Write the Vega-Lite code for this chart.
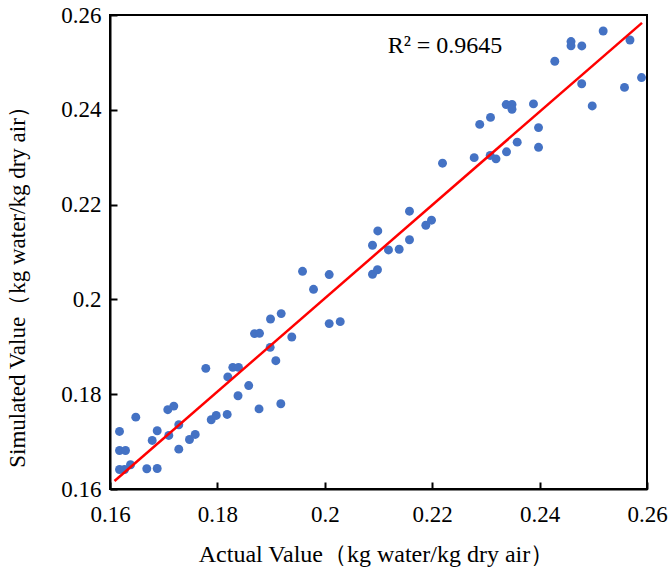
{
  "$schema": "https://vega.github.io/schema/vega-lite/v6.json",
  "width": 537,
  "height": 474,
  "autosize": {"type": "none"},
  "padding": {"left": 110, "top": 15, "right": 25, "bottom": 83},
  "background": "white",
  "config": {
    "view": {"stroke": "#000", "strokeWidth": 2},
    "font": "Liberation Serif",
    "axis": {
      "grid": false,
      "domainColor": "#000",
      "domainWidth": 2,
      "tickColor": "#000",
      "tickWidth": 2,
      "tickSize": -7,
      "labelColor": "#000",
      "titleColor": "#000",
      "labelFlush": false
    }
  },
  "datasets": {
    "points": [
      {"actual": 0.16177, "simulated": 0.17214},
      {"actual": 0.16177, "simulated": 0.16813},
      {"actual": 0.16289, "simulated": 0.16813},
      {"actual": 0.16177, "simulated": 0.16412},
      {"actual": 0.16270, "simulated": 0.16412},
      {"actual": 0.16382, "simulated": 0.16511},
      {"actual": 0.16480, "simulated": 0.17516},
      {"actual": 0.16685, "simulated": 0.16427},
      {"actual": 0.16879, "simulated": 0.16433},
      {"actual": 0.16786, "simulated": 0.17024},
      {"actual": 0.16879, "simulated": 0.17229},
      {"actual": 0.17076, "simulated": 0.17673},
      {"actual": 0.17188, "simulated": 0.17749},
      {"actual": 0.17095, "simulated": 0.17130},
      {"actual": 0.17281, "simulated": 0.17356},
      {"actual": 0.17281, "simulated": 0.16841},
      {"actual": 0.17480, "simulated": 0.17045},
      {"actual": 0.17587, "simulated": 0.17151},
      {"actual": 0.17784, "simulated": 0.18545},
      {"actual": 0.17885, "simulated": 0.17461},
      {"actual": 0.17978, "simulated": 0.17552},
      {"actual": 0.18182, "simulated": 0.17573},
      {"actual": 0.18194, "simulated": 0.18365},
      {"actual": 0.18287, "simulated": 0.18566},
      {"actual": 0.18393, "simulated": 0.18566},
      {"actual": 0.18384, "simulated": 0.17968},
      {"actual": 0.18583, "simulated": 0.18182},
      {"actual": 0.18775, "simulated": 0.17690},
      {"actual": 0.19181, "simulated": 0.17799},
      {"actual": 0.18989, "simulated": 0.19586},
      {"actual": 0.19188, "simulated": 0.19700},
      {"actual": 0.18691, "simulated": 0.19278},
      {"actual": 0.18784, "simulated": 0.19284},
      {"actual": 0.18983, "simulated": 0.18988},
      {"actual": 0.19088, "simulated": 0.18707},
      {"actual": 0.19385, "simulated": 0.19206},
      {"actual": 0.19585, "simulated": 0.20593},
      {"actual": 0.19790, "simulated": 0.20213},
      {"actual": 0.20082, "simulated": 0.20524},
      {"actual": 0.20082, "simulated": 0.19489},
      {"actual": 0.20287, "simulated": 0.19531},
      {"actual": 0.20888, "simulated": 0.20530},
      {"actual": 0.20981, "simulated": 0.20625},
      {"actual": 0.20888, "simulated": 0.21143},
      {"actual": 0.20987, "simulated": 0.21445},
      {"actual": 0.21186, "simulated": 0.21043},
      {"actual": 0.21385, "simulated": 0.21058},
      {"actual": 0.21577, "simulated": 0.21259},
      {"actual": 0.21577, "simulated": 0.21861},
      {"actual": 0.21881, "simulated": 0.21565},
      {"actual": 0.21987, "simulated": 0.21671},
      {"actual": 0.22192, "simulated": 0.22874},
      {"actual": 0.22782, "simulated": 0.22991},
      {"actual": 0.23080, "simulated": 0.23037},
      {"actual": 0.23188, "simulated": 0.22965},
      {"actual": 0.23384, "simulated": 0.23113},
      {"actual": 0.23583, "simulated": 0.23318},
      {"actual": 0.23980, "simulated": 0.23208},
      {"actual": 0.23980, "simulated": 0.23624},
      {"actual": 0.22885, "simulated": 0.23692},
      {"actual": 0.23086, "simulated": 0.23840},
      {"actual": 0.23378, "simulated": 0.24110},
      {"actual": 0.23486, "simulated": 0.24114},
      {"actual": 0.23486, "simulated": 0.24011},
      {"actual": 0.23886, "simulated": 0.24125},
      {"actual": 0.24283, "simulated": 0.25024},
      {"actual": 0.24585, "simulated": 0.25440},
      {"actual": 0.24585, "simulated": 0.25350},
      {"actual": 0.24786, "simulated": 0.25347},
      {"actual": 0.25184, "simulated": 0.25662},
      {"actual": 0.25683, "simulated": 0.25472},
      {"actual": 0.24784, "simulated": 0.24549},
      {"actual": 0.24980, "simulated": 0.24082},
      {"actual": 0.25581, "simulated": 0.24473},
      {"actual": 0.25898, "simulated": 0.24680}
    ],
    "fit": [
      {"actual": 0.16084, "simulated": 0.16169},
      {"actual": 0.25907, "simulated": 0.25835}
    ],
    "note": [
      {"actual": 0.2117, "simulated": 0.2520, "label": "R² = 0.9645"}
    ]
  },
  "encoding": {
    "x": {
      "field": "actual",
      "type": "quantitative",
      "scale": {"domain": [0.16, 0.26], "nice": false, "zero": false},
      "axis": {
        "title": "Actual Value（kg water/kg dry air）",
        "values": [0.16, 0.18, 0.2, 0.22, 0.24, 0.26],
        "format": ".2~f",
        "labelFont": "Liberation Serif",
        "labelFontSize": 23,
        "titleFont": "Liberation Serif",
        "titleFontSize": 24,
        "titleFontWeight": "normal",
        "labelPadding": 21,
        "titleBaseline": "alphabetic",
        "titleAnchor": "start",
        "titleAlign": "center",
        "titleX": 266,
        "titleY": 72
      }
    },
    "y": {
      "field": "simulated",
      "type": "quantitative",
      "scale": {"domain": [0.16, 0.26], "nice": false, "zero": false},
      "axis": {
        "title": "Simulated Value（kg water/kg dry air）",
        "values": [0.16, 0.18, 0.2, 0.22, 0.24, 0.26],
        "format": ".2~f",
        "labelFont": "Liberation Serif",
        "labelFontSize": 23,
        "titleFont": "Liberation Serif",
        "titleFontSize": 23,
        "titleFontWeight": "normal",
        "labelPadding": 16,
        "titleAngle": -90,
        "titleBaseline": "alphabetic",
        "titleAnchor": "start",
        "titleAlign": "center",
        "titleX": -86,
        "titleY": 266
      }
    }
  },
  "layer": [
    {
      "data": {"name": "points"},
      "mark": {"type": "point", "filled": true, "shape": "circle", "size": 80, "color": "#4472C4", "opacity": 1}
    },
    {
      "data": {"name": "fit"},
      "mark": {"type": "line", "color": "#FF0000", "strokeWidth": 2.5}
    },
    {
      "data": {"name": "note"},
      "mark": {"type": "text", "align": "left", "baseline": "alphabetic", "font": "Liberation Serif", "fontSize": 24, "color": "#000"},
      "encoding": {"text": {"field": "label"}}
    }
  ]
}
